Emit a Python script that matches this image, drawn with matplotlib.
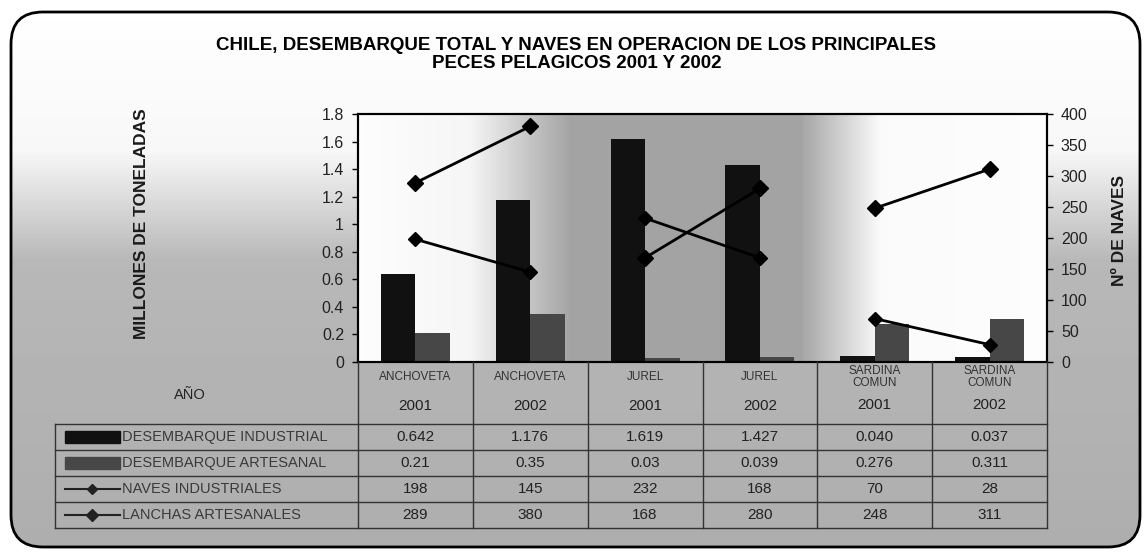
import matplotlib.pyplot as plt
import matplotlib.transforms as mtransforms
import numpy as np
from matplotlib.lines import Line2D
from matplotlib.patches import FancyBboxPatch, Rectangle

plt.rcParams['font.family'] = ['Liberation Sans', 'DejaVu Sans']

especies = ["ANCHOVETA", "ANCHOVETA", "JUREL", "JUREL", "SARDINA\nCOMUN", "SARDINA\nCOMUN"]
anios = ["2001", "2002", "2001", "2002", "2001", "2002"]
desembarque_industrial = [0.642, 1.176, 1.619, 1.427, 0.040, 0.037]
desembarque_artesanal = [0.21, 0.35, 0.03, 0.039, 0.276, 0.311]
naves_industriales = [198, 145, 232, 168, 70, 28]
lanchas_artesanales = [289, 380, 168, 280, 248, 311]
ticks_izq = [0, 0.2, 0.4, 0.6, 0.8, 1, 1.2, 1.4, 1.6, 1.8]
ticks_der = [0, 50, 100, 150, 200, 250, 300, 350, 400]

W, H = 1148, 554
fig = plt.figure(figsize=(W / 100, H / 100), dpi=100)


def fx(px):
    return px / W


def fy(py):
    return 1 - py / H


# scanned-looking background: white top, grey lower part, light plot area edges
bg = fig.add_axes([0, 0, 1, 1], zorder=0)
bg.set_xlim(0, W)
bg.set_ylim(H, 0)
bg.axis("off")
yy = np.arange(H)[:, None]
xx = np.arange(W)[None, :]
shade = np.interp(yy, [0, 150, 260, H], [1.0, 0.97, 0.72, 0.68]) * np.ones((1, W))
in_plot = (xx >= 358) & (xx <= 1047) & (yy >= 114) & (yy <= 362)
hprof = np.interp(xx, [358, 470, 570, 800, 880, 1047], [0.99, 0.96, 0.64, 0.64, 0.98, 0.99])
shade = np.where(in_plot, hprof * np.ones((H, 1)), shade)
img = bg.imshow(shade, cmap="gray", vmin=0, vmax=1, extent=(0, W, H, 0), aspect="auto")
frame = FancyBboxPatch((11, 12), 1129, 535, boxstyle="round,pad=0,rounding_size=32",
                       facecolor="none", edgecolor="black", lw=2)
bg.add_patch(frame)
img.set_clip_path(frame)

# main axes
ax = fig.add_axes([fx(358), fy(362), fx(1047) - fx(358), fy(114) - fy(362)], zorder=1)
ax.patch.set_alpha(0)
x = np.arange(len(anios))
ax.bar(x - 0.15, desembarque_industrial, width=0.3, color="#111111", zorder=2)
ax.bar(x + 0.15, desembarque_artesanal, width=0.3, color="#474747", zorder=2)
ax.set_xlim(-0.5, len(anios) - 0.5)
ax.set_ylim(0, 1.8)
ax.set_yticks(ticks_izq)
ax.set_yticklabels([f"{t:g}" for t in ticks_izq], fontsize=11.5, color="#222222")
ax.set_xticks([])
ax.tick_params(axis="y", direction="out", length=4, width=1, pad=6)
for s in ax.spines.values():
    s.set_linewidth(1.5)
    s.set_color("black")

ax2 = ax.twinx()
ax2.set_ylim(0, 400)
ax2.set_yticks(ticks_der)
ax2.set_yticklabels([str(t) for t in ticks_der], fontsize=11.5, color="#222222")
ax2.tick_params(axis="y", direction="out", length=4, width=1, pad=6)
for i in range(0, len(anios), 2):
    ax2.plot(x[i:i + 2], naves_industriales[i:i + 2], color="black", lw=2,
             marker="D", ms=7, zorder=3)
    ax2.plot(x[i:i + 2], lanchas_artesanales[i:i + 2], color="black", lw=2,
             marker="D", ms=8, zorder=3)
for s in ax2.spines.values():
    s.set_linewidth(1.5)

fig.text(0.502, fy(45), "CHILE, DESEMBARQUE TOTAL Y NAVES EN OPERACION DE LOS PRINCIPALES",
         ha="center", va="center", fontsize=13.5, fontweight="bold")
fig.text(0.502, fy(64), "PECES PELAGICOS 2001 Y 2002",
         ha="center", va="center", fontsize=13.5, fontweight="bold")
fig.text(fx(142), fy(224), "MILLONES DE TONELADAS", rotation=90, ha="center", va="center",
         fontsize=12.5, fontweight="bold", color="#1a1a1a")
fig.text(fx(1120), fy(231), "Nº DE NAVES", rotation=90, ha="center", va="center",
         fontsize=12.5, fontweight="bold", color="#1a1a1a")

# data table under the chart
tr = mtransforms.blended_transform_factory(ax.transData, fig.transFigure)
line_kw = dict(color="#333333", lw=1)
for b in np.arange(len(anios) + 1) - 0.5:
    fig.add_artist(Line2D([b, b], [fy(362), fy(528)], transform=tr, **line_kw))
row_lines = [424, 450, 476, 502, 528]
for ry in row_lines:
    fig.add_artist(Line2D([fx(55), fx(1047)], [fy(ry), fy(ry)], **line_kw))
fig.add_artist(Line2D([fx(55), fx(55)], [fy(424), fy(528)], **line_kw))

fig.text(fx(190), fy(395), "AÑO", ha="center", va="center", fontsize=10.5, color="#222222")
for i, (esp, an) in enumerate(zip(especies, anios)):
    if "\n" in esp:
        fig.text(i, fy(377), esp, transform=tr, ha="center", va="center",
                 fontsize=8.5, color="#333333", linespacing=0.95)
        fig.text(i, fy(405), an, transform=tr, ha="center", va="center",
                 fontsize=11, color="#222222")
    else:
        fig.text(i, fy(377), esp, transform=tr, ha="center", va="center",
                 fontsize=8.5, color="#333333")
        fig.text(i, fy(406), an, transform=tr, ha="center", va="center",
                 fontsize=11, color="#222222")

filas = [
    ("DESEMBARQUE INDUSTRIAL", [f"{v:.3f}" for v in desembarque_industrial]),
    ("DESEMBARQUE ARTESANAL", [f"{v:g}" for v in desembarque_artesanal]),
    ("NAVES INDUSTRIALES", [str(v) for v in naves_industriales]),
    ("LANCHAS ARTESANALES", [str(v) for v in lanchas_artesanales]),
]
for r, (nombre, valores) in enumerate(filas):
    cy = (row_lines[r] + row_lines[r + 1]) / 2
    if r < 2:
        fig.add_artist(Rectangle((fx(65), fy(cy + 6)), fx(120) - fx(65), fy(cy - 6) - fy(cy + 6),
                                 color="#111111" if r == 0 else "#474747",
                                 transform=fig.transFigure))
    else:
        fig.add_artist(Line2D([fx(65), fx(92), fx(120)], [fy(cy)] * 3, color="#222222", lw=1.5,
                              marker="D", ms=5 if r == 2 else 6, markevery=[1],
                              transform=fig.transFigure))
    fig.text(fx(122), fy(cy), nombre, ha="left", va="center", fontsize=10.5, color="#3a3a3a")
    for i, v in enumerate(valores):
        fig.text(i, fy(cy), v, transform=tr, ha="center", va="center",
                 fontsize=11, color="#222222")

fig.savefig("out.png", dpi=100)
